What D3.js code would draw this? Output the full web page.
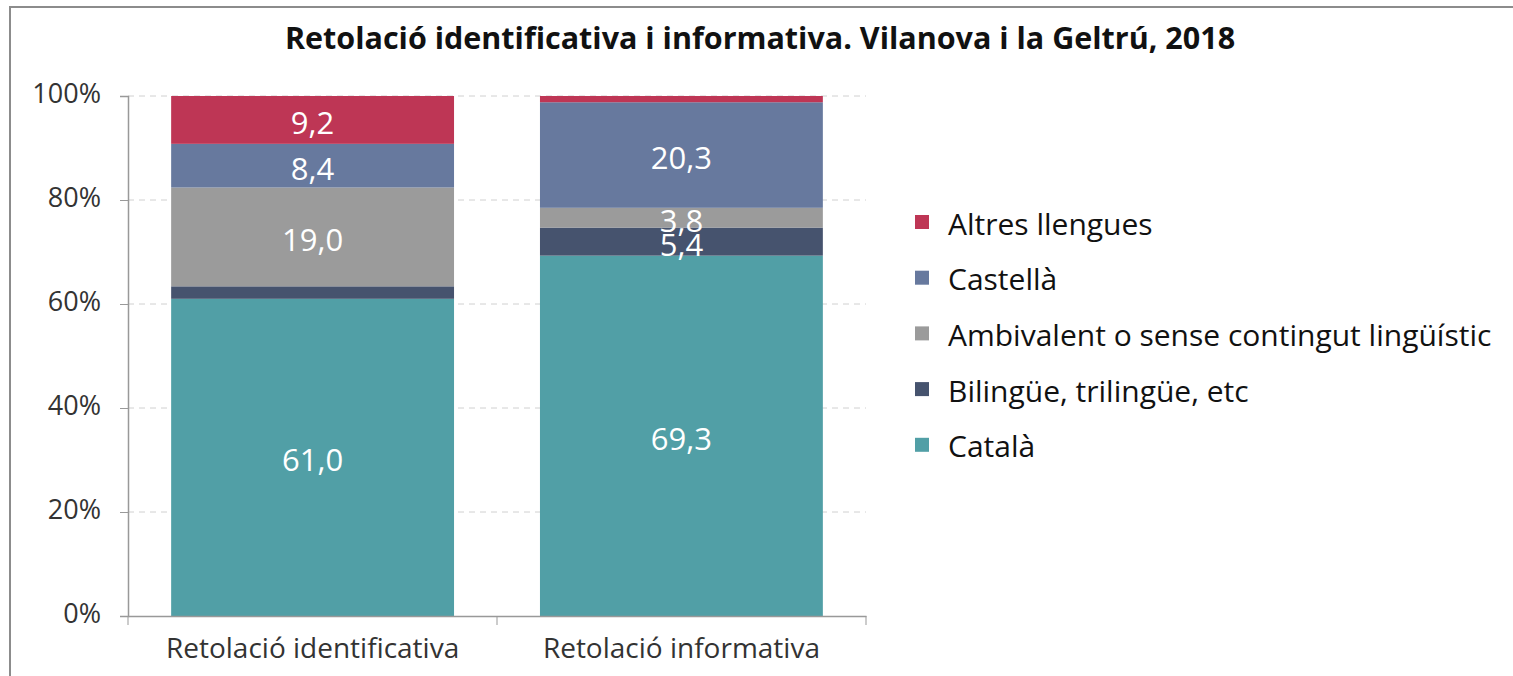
<!DOCTYPE html>
<html>
<head>
<meta charset="utf-8">
<script src="https://cdn.jsdelivr.net/npm/d3@7"></script>
<style>
  body { margin: 0; background: #fff; }
  svg text { font-family: "Open Sans", Lato, sans-serif; }
</style>
</head>
<body>
<svg width="1513" height="676"></svg>
<script>
const categories = ['Retolació identificativa', 'Retolació informativa'];
const series = ['Català', 'Bilingüe, trilingüe, etc', 'Ambivalent o sense contingut lingüístic', 'Castellà', 'Altres llengues'];
const colors = ['#519fa6', '#46536e', '#9b9b9b', '#67799e', '#be3655'];
// percentages per series, one value per category
const catala = [61.0, 69.3];
const bilingue = [2.4, 5.4];
const ambivalent = [19.0, 3.8];
const castella = [8.4, 20.3];
const altres = [9.2, 1.2];
// which segments carry a label
const showLabel = [[true, true], [false, true], [true, true], [true, true], [true, false]];
const yTicks = [0, 20, 40, 60, 80, 100];

const values = [catala, bilingue, ambivalent, castella, altres];
const rows = categories.map((c, i) => {
  const r = { cat: c };
  series.forEach((s, j) => r[s] = values[j][i]);
  return r;
});

const svg = d3.select('svg');

// chart frame (right and bottom edges fall outside the picture)
svg.append('rect')
  .attr('x', 10).attr('y', 7)
  .attr('width', 1600).attr('height', 800)
  .attr('fill', 'none').attr('stroke', '#8c8c8c').attr('stroke-width', 2);

svg.append('text')
  .attr('x', 760).attr('y', 49)
  .attr('text-anchor', 'middle')
  .attr('font-size', 30.5).attr('font-weight', 'bold')
  .attr('fill', '#111')
  .text('Retolació identificativa i informativa. Vilanova i la Geltrú, 2018');

const mLeft = 128, mRight = 866, mTop = 96, mBottom = 616;

const x = d3.scaleBand().domain(categories).range([mLeft, mRight]).paddingInner(0.233).paddingOuter(0.117);
const y = d3.scaleLinear().domain([0, 100]).range([mBottom, mTop]);

// gridlines
svg.append('g').selectAll('line').data(yTicks.filter(t => t > 0)).join('line')
  .attr('x1', mLeft).attr('x2', mRight)
  .attr('y1', d => y(d)).attr('y2', d => y(d))
  .attr('stroke', '#d0d0d0').attr('stroke-dasharray', '6,5');

const stack = d3.stack().keys(series)(rows);

const layer = svg.append('g').selectAll('g').data(stack).join('g')
  .attr('fill', (d, i) => colors[i]);

layer.selectAll('rect').data(d => d).join('rect')
  .attr('x', d => x(d.data.cat))
  .attr('width', x.bandwidth())
  .attr('y', d => y(d[1]))
  .attr('height', d => y(d[0]) - y(d[1]));

svg.append('g').selectAll('g').data(stack).join('g')
  .each(function(s, si) {
    d3.select(this).selectAll('text').data(s.filter((d, ci) => showLabel[si][ci])).join('text')
      .attr('x', d => x(d.data.cat) + x.bandwidth() / 2)
      .attr('y', d => (y(d[0]) + y(d[1])) / 2 + 2)
      .attr('text-anchor', 'middle')
      .attr('dominant-baseline', 'central')
      .attr('font-size', 31)
      .attr('fill', '#fff')
      .text(d => d3.format('.1f')(d[1] - d[0]).replace('.', ','));
  });

// y axis
const yAxis = svg.append('g')
  .attr('transform', `translate(${mLeft},0)`)
  .call(d3.axisLeft(y).tickValues(yTicks).tickFormat(d => d + '%').tickSize(8).tickPadding(19));
yAxis.selectAll('text').attr('font-size', 27).attr('fill', '#333').attr('dy', '0.25em');

// x axis
const xAxis = svg.append('g')
  .attr('transform', `translate(0,${mBottom})`)
  .call(d3.axisBottom(x).tickSize(0).tickPadding(17));
xAxis.selectAll('text').attr('font-size', 28).attr('fill', '#333').attr('dy', '0.9em');
xAxis.append('g').selectAll('line')
  .data([mLeft, (mLeft + mRight) / 2, mRight]).join('line')
  .attr('x1', d => d).attr('x2', d => d)
  .attr('y1', 0).attr('y2', 9)
  .attr('stroke', '#999');

svg.selectAll('.domain').attr('stroke', '#999').attr('stroke-width', 1.5);
svg.selectAll('.tick line').attr('stroke', '#999');

// legend, top entry is the last series
const legendItems = series.map((s, i) => ({ s, c: colors[i] })).reverse();
const legend = svg.append('g').selectAll('g').data(legendItems).join('g')
  .attr('transform', (d, i) => `translate(915,${222 + i * 55.7})`);
legend.append('rect')
  .attr('x', 0).attr('y', -7).attr('width', 14).attr('height', 14)
  .attr('fill', d => d.c);
legend.append('text')
  .attr('x', 33).attr('y', 1)
  .attr('dominant-baseline', 'central')
  .attr('font-size', 30)
  .attr('fill', '#111')
  .text(d => d.s);
</script>
</body>
</html>
